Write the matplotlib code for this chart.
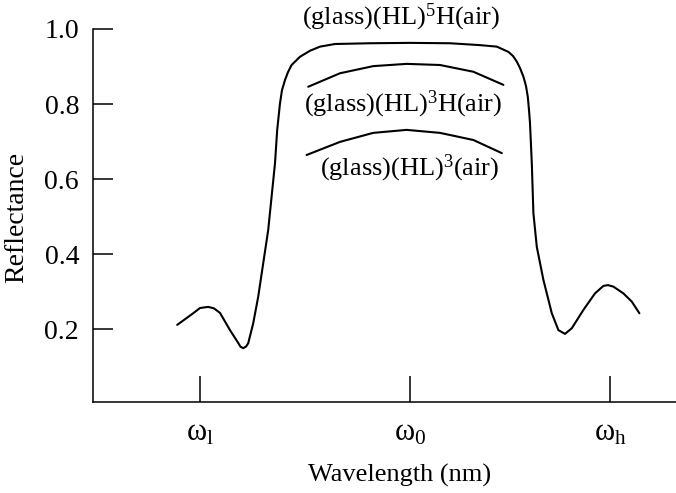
import matplotlib
matplotlib.use("Agg")
import matplotlib.pyplot as plt

plt.rcParams['font.family'] = ['Liberation Serif', 'DejaVu Serif']
plt.rcParams['mathtext.fontset'] = 'custom'
plt.rcParams['mathtext.rm'] = 'Liberation Serif'
plt.rcParams['mathtext.it'] = 'Liberation Serif:italic'
plt.rcParams['mathtext.bf'] = 'Liberation Serif:bold'

# (glass)(HL)^5 H(air)
x5 = [-1.164, -1.084, -1.050, -1.009, -0.980, -0.950, -0.900, -0.859, -0.848, -0.834,
      -0.820, -0.809, -0.784, -0.759, -0.734, -0.709, -0.692, -0.675, -0.664, -0.650,
      -0.640, -0.625, -0.610, -0.592, -0.550, -0.500, -0.450, -0.375, -0.200, 0.000,
      0.200, 0.350, 0.434, 0.492, 0.515, 0.534, 0.550, 0.567, 0.580, 0.589,
      0.595, 0.600, 0.609, 0.617, 0.634, 0.667, 0.709, 0.742, 0.775, 0.809,
      0.867, 0.925, 0.967, 0.990, 1.017, 1.067, 1.109, 1.147]
y5 = [0.211, 0.242, 0.256, 0.259, 0.255, 0.243, 0.197, 0.163, 0.153, 0.149,
      0.153, 0.162, 0.215, 0.286, 0.375, 0.464, 0.553, 0.642, 0.731, 0.802,
      0.837, 0.864, 0.885, 0.904, 0.926, 0.942, 0.953, 0.960, 0.962, 0.963,
      0.962, 0.957, 0.953, 0.939, 0.928, 0.913, 0.896, 0.873, 0.848, 0.819,
      0.784, 0.749, 0.642, 0.509, 0.419, 0.331, 0.242, 0.197, 0.187, 0.202,
      0.251, 0.295, 0.315, 0.317, 0.313, 0.295, 0.273, 0.242]

# (glass)(HL)^3 H(air)
x3h = [-0.509, -0.350, -0.184, -0.017, 0.150, 0.317, 0.467]
y3h = [0.846, 0.882, 0.901, 0.907, 0.904, 0.886, 0.851]

# (glass)(HL)^3(air)
x3 = [-0.517, -0.350, -0.184, -0.017, 0.150, 0.317, 0.459]
y3 = [0.664, 0.699, 0.723, 0.731, 0.723, 0.704, 0.669]

xticks = [-1.05, 0.0, 1.0]
xticklabels = [r'ω$_{\mathrm{l}}$', r'ω$_{\mathrm{0}}$', r'ω$_{\mathrm{h}}$']
yticks = [0.2, 0.4, 0.6, 0.8, 1.0]
yticklabels = ['0.2', '0.4', '0.6', '0.8', '1.0']

fig = plt.figure(figsize=(6.76, 4.93), dpi=100)
ax = fig.add_axes([93/676, 1 - 401.5/493, 1 - 93/676, (401.5 - 29)/493])

kw = dict(color='black', lw=1.5, solid_capstyle='round', solid_joinstyle='round')
ax.plot(x5, y5, **kw)
ax.plot(x3h, y3h, **kw)
ax.plot(x3, y3, **kw)

ax.set_xlim(-1.585, 1.33)
ax.set_ylim(0.0067, 1.0)

for s in ['top', 'right']:
    ax.spines[s].set_visible(False)
for s in ['left', 'bottom']:
    ax.spines[s].set_linewidth(1.1)

ax.set_xticks(xticks)
ax.set_xticklabels(xticklabels)
ax.set_yticks(yticks)
ax.set_yticklabels(yticklabels)
ax.tick_params(axis='x', direction='in', length=19, width=1.1, pad=12, labelsize=22)
ax.tick_params(axis='y', direction='in', length=14.5, width=1.1, pad=10, labelsize=20)

ax.set_xlabel('Wavelength (nm)', fontsize=19)
ax.set_ylabel('Reflectance', fontsize=20)
ax.xaxis.label.set_va('center')
ax.yaxis.label.set_va('center')
ax.xaxis.set_label_coords((400 - 93) / 583, (401.5 - 475) / 372.5)
ax.yaxis.set_label_coords((17 - 93) / 583, (401.5 - 217) / 372.5)

ax.text(-0.045, 1.03, r'(glass)(HL)$^{5}$H(air)', ha='center', va='center', fontsize=19, clip_on=False)
ax.text(-0.035, 0.80, r'(glass)(HL)$^{3}$H(air)', ha='center', va='center', fontsize=19)
ax.text(0.0, 0.629, r'(glass)(HL)$^{3}$(air)', ha='center', va='center', fontsize=19)

fig.savefig('out.png', dpi=100)
